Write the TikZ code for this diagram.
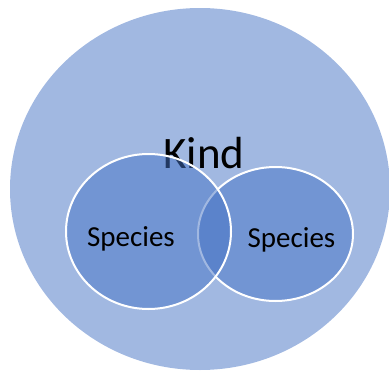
\documentclass[tikz,border=0pt]{standalone}
\usepackage{fontspec}
\setmainfont{Carlito}
\usetikzlibrary{shapes.geometric}
\definecolor{setblue}{HTML}{4472C4}
\tikzset{
  setdisc/.style ={ellipse, fill=setblue, fill opacity=0.5, inner sep=0pt},
  subset/.style  ={setdisc, draw=white, line width=1.5pt},
  biglbl/.style  ={text=black, inner sep=0pt, anchor=base,
                   font=\fontsize{33.75}{36}\selectfont},
  setlbl/.style  ={text=black, inner sep=0pt, anchor=base,
                   font=\fontsize{21.75}{24}\selectfont}
}

\begin{document}
\begin{tikzpicture}[x=0.75pt,y=-0.75pt]
  \useasboundingbox (0,0) rectangle (389,371);
  % outer set and its name
  \node[setdisc,minimum width=285pt,minimum height=271.5pt] (kindset) at (200,189) {};
  \node[biglbl] (kind) at (204,168) {Kind};
  % the two overlapping subsets
  \node[subset,minimum width=116.25pt,minimum height=100.5pt] (specB) at (275.5,234) {};
  \node[subset,minimum width=123.75pt,minimum height=116.25pt] (specA) at (148.5,231.5) {};
  \node[setlbl] (specAlbl) at (131,246) {Species};
  \node[setlbl] (specBlbl) at (291.5,247) {Species};
\end{tikzpicture}
\end{document}
